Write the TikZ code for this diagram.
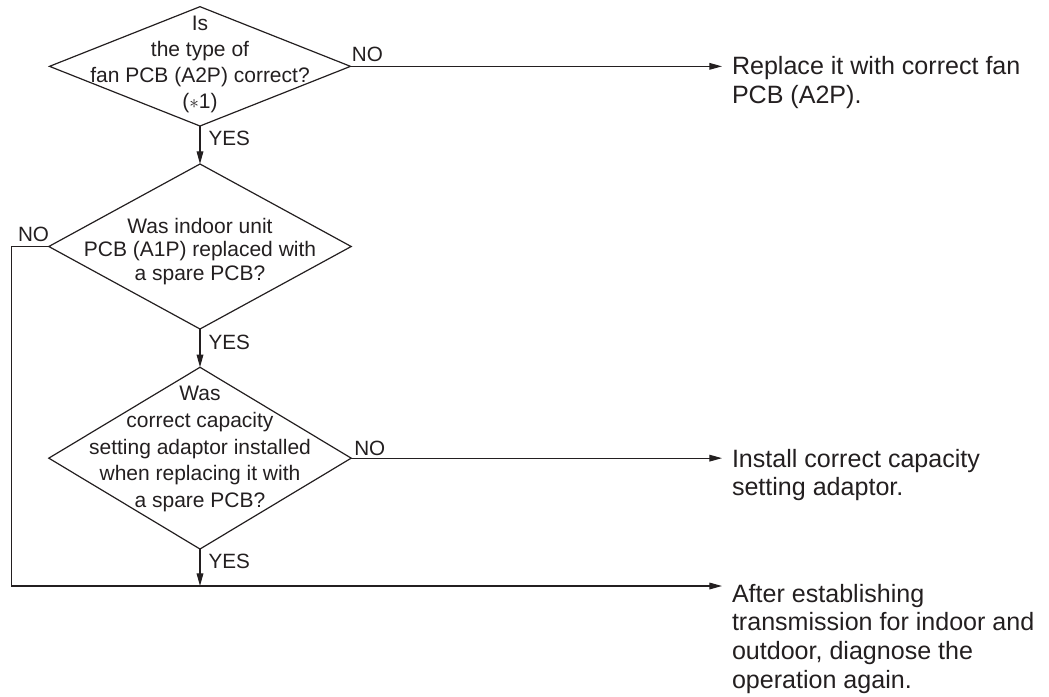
\documentclass[tikz,border=0pt]{standalone}
\usepackage{fontspec}
\setmainfont{Liberation Sans}
\usetikzlibrary{shapes.geometric,arrows.meta}
\definecolor{ink}{HTML}{231F20}
\newcommand{\qlines}[2]{\makebox[0pt]{\raisebox{#1}[0pt][0pt]{\begin{tabular}[t]{@{}c@{}}#2\end{tabular}}}}
\newcommand{\alines}[1]{\begin{tabular}[t]{@{}l@{}}#1\end{tabular}}
\begin{document}
\begin{tikzpicture}[x=0.75pt,y=-0.75pt,
  qnode/.style={diamond, draw=ink, line width=0.9pt, inner sep=0pt, outer sep=0pt,
    font=\fontsize{15.75}{19.5}\selectfont, text=ink},
  ans/.style={anchor=base west, inner xsep=7.3pt, inner ysep=0pt,
    font=\fontsize{18.8}{21.6}\selectfont, text=ink},
  lbl/.style={inner sep=0pt, font=\fontsize{15.5}{18}\selectfont, text=ink},
  flow/.style={draw=ink, line width=0.9pt, -{Triangle[length=9.5pt,width=5pt]}}
]
\useasboundingbox (0,0) rectangle (1049,696);

\node[qnode, minimum width=225.75pt, minimum height=89.5pt] (d1) at (200,66.35)
  {\qlines{26.9pt}{Is\\the type of\\fan PCB (A2P) correct?\\($\ast$1)}};
\node[qnode, minimum width=226.8pt, minimum height=123.75pt,
  font=\fontsize{15.75}{17.6}\selectfont] (d2) at (200,246.5)
  {\qlines{9.75pt}{Was indoor unit\\PCB (A1P) replaced with\\a spare PCB?}};
\node[qnode, minimum width=226.8pt, minimum height=136.3pt,
  font=\fontsize{15.75}{20}\selectfont] (d3) at (200,458.15)
  {\qlines{43pt}{Was\\correct capacity\\setting adaptor installed\\when replacing it with\\a spare PCB?}};

\node[ans] (r1) at (722,74.3) {\alines{Replace it with correct fan\\PCB (A2P).}};
\node[ans] (r2) at (722,467) {\alines{Install correct capacity\\setting adaptor.}};
\node[ans] (r3) at (722,602) {\alines{After establishing\\transmission for indoor and\\outdoor, diagnose the\\operation again.}};

\node[lbl, anchor=base west] (no1) at (351.7,61.7) {NO};
\node[lbl, anchor=base west] (yes1) at (208.3,145.7) {YES};
\node[lbl, anchor=base east] (no2) at (49.3,241) {NO};
\node[lbl, anchor=base west] (yes2) at (208.3,349.3) {YES};
\node[lbl, anchor=base west] (no3) at (354,455) {NO};
\node[lbl, anchor=base west] (yes3) at (208.3,568.3) {YES};

\coordinate (j) at (200,586);
\coordinate (lft) at (11.7,586);

\draw[flow] (d1.south) -- (d2.north);
\draw[flow] (d2.south) -- (d3.north);
\draw[flow] (d1.east) -- (d1.east -| r1.west);
\draw[flow] (d3.east) -- (d3.east -| r2.west);
\draw[flow] (d3.south) -- (j);
\draw[flow] (d2.west) -| (lft) -- (lft -| r3.west);
\end{tikzpicture}
\end{document}
